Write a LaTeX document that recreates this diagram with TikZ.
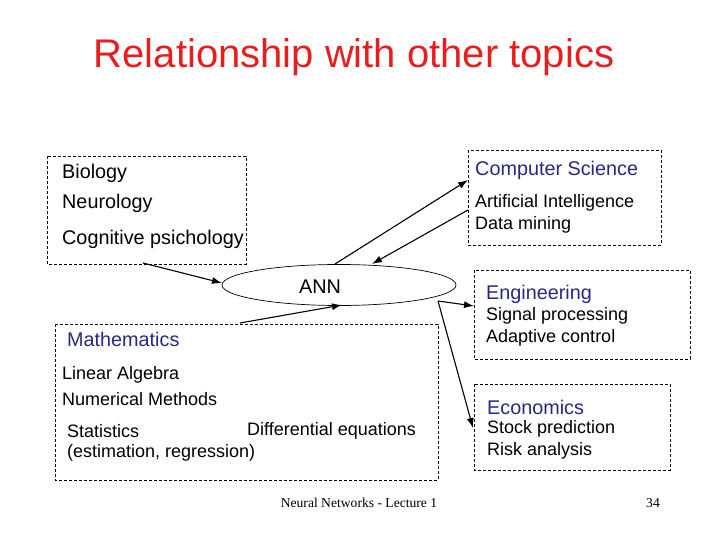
\documentclass[tikz,border=0pt]{standalone}
\usepackage{fontspec}
\setmainfont{Liberation Sans}
\newfontfamily\serifft{Liberation Serif}
\usetikzlibrary{shapes.geometric,arrows.meta}
\definecolor{ttl}{RGB}{230,30,30}
\definecolor{hd}{RGB}{40,40,130}
\begin{document}
\begin{tikzpicture}[x=1pt,y=-1pt,
  box/.style={draw,line width=0.7pt,dash pattern=on 3pt off 2pt},
  txt/.style={anchor=west,inner sep=0pt,font=\fontsize{18}{20}\selectfont},
  big/.style={anchor=west,inner sep=0pt,font=\fontsize{19.8}{22}\selectfont},
  hdt/.style={big,text=hd},
  arr/.style={-{Latex[length=10pt,width=7pt]},line width=1.1pt}]
\useasboundingbox (0,0) rectangle (720,540);
\node[text=ttl,font=\fontsize{40}{44}\selectfont] (title) at (354,57) {Relationship with other topics};
\draw[box] (47,156) rectangle (246,264);
\draw[box] (468,150) rectangle (661,245);
\draw[box] (474,270) rectangle (690,359);
\draw[box] (55,324) rectangle (438,480);
\draw[box] (474,384) rectangle (670,470);
\node[draw,ellipse,line width=0.7pt,minimum width=234,minimum height=41,inner sep=0pt] (ann) at (339,285) {};
\node[big] at (299,287) {ANN};
\node[big] at (62,173) {Biology};
\node[big] at (62,203) {Neurology};
\node[big] at (62,239) {Cognitive psichology};
\node[hdt] at (475,170) {Computer Science};
\node[txt] at (475,203) {Artificial Intelligence};
\node[txt] at (475,225) {Data mining};
\node[hdt] at (486,294) {Engineering};
\node[txt] at (486,316) {Signal processing};
\node[txt] at (486,338) {Adaptive control};
\node[hdt] at (67,339) {Mathematics};
\node[txt] at (62,375) {Linear Algebra};
\node[txt] at (62,399) {Numerical Methods};
\node[txt] at (67,431) {Statistics};
\node[txt] at (247,431) {Differential equations};
\node[txt] at (67,453) {(estimation, regression)};
\node[hdt] at (487,407) {Economics};
\node[txt] at (487,429) {Stock prediction};
\node[txt] at (487,451) {Risk analysis};
\node[font=\serifft\fontsize{13.6}{15}\selectfont] (foot) at (359,503) {Neural Networks - Lecture 1};
\node[font=\serifft\fontsize{13.6}{15}\selectfont] (num) at (653,503) {34};
\coordinate (b1) at (143,263); \coordinate (a1) at (222,283);
\coordinate (m1) at (240,323); \coordinate (a2) at (342,305);
\coordinate (a3) at (335,264); \coordinate (c1) at (468,180);
\coordinate (c2) at (468,210); \coordinate (a4) at (372,264);
\coordinate (a5) at (438,301); \coordinate (e1) at (474,306);
\coordinate (ec) at (473,428);
\draw[arr] (b1) -- (a1);
\draw[arr] (m1) -- (a2);
\draw[arr] (a3) -- (c1);
\draw[arr] (c2) -- (a4);
\draw[arr] (a5) -- (e1);
\draw[arr] (a5) -- (ec);
\end{tikzpicture}
\end{document}
